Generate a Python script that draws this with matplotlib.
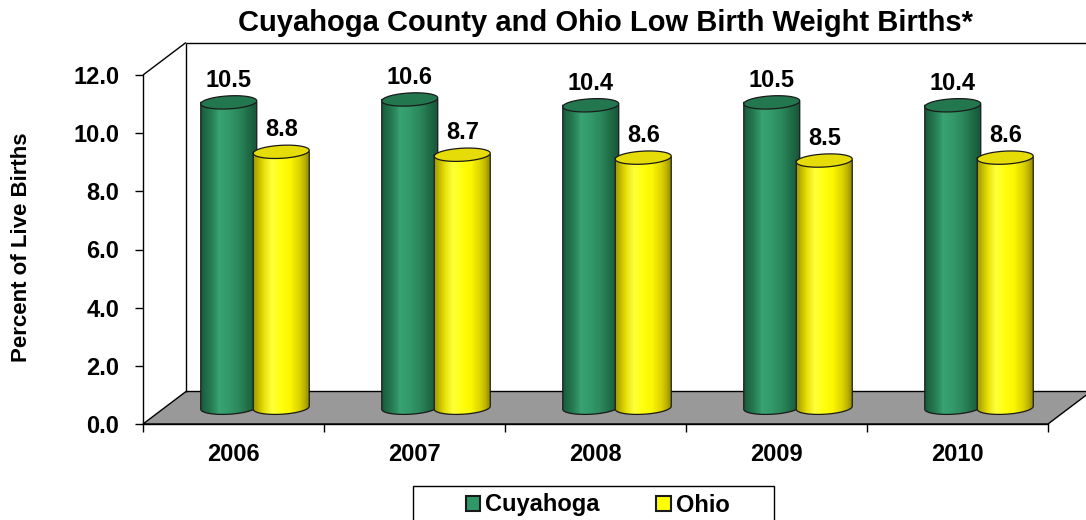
import numpy as np
import matplotlib
matplotlib.use("Agg")
import matplotlib.pyplot as plt
from matplotlib.patches import Polygon, PathPatch, Rectangle, Patch
from matplotlib.path import Path
from matplotlib.collections import PolyCollection
from matplotlib.colors import LinearSegmentedColormap

plt.rcParams['font.family'] = ['Liberation Sans', 'DejaVu Sans']
plt.rcParams['font.weight'] = 'bold'

# ---- data ----
years = ['2006', '2007', '2008', '2009', '2010']
series_names = ['Cuyahoga', 'Ohio']
cuyahoga = [10.5, 10.6, 10.4, 10.5, 10.4]
ohio = [8.8, 8.7, 8.6, 8.5, 8.6]
y_ticks = [0, 2, 4, 6, 8, 10, 12]

title = 'Cuyahoga County and Ohio Low Birth Weight Births*'
y_label = 'Percent of Live Births'

# ---- styling ----
W, H = 1086, 520
DPI = 100
FS = 17

green_stops = ['#1a5a3c', '#23774f', '#38a373', '#33996b', '#2b8a5e', '#217049', '#18553a']
yellow_stops = ['#9c9400', '#e0d800', '#ffff3a', '#ffff10', '#fbf600', '#dcd200', '#9a9200']
top_colors = ['#22774f', '#e6dc08']
bar_cmaps = [LinearSegmentedColormap.from_list('g', green_stops),
             LinearSegmentedColormap.from_list('y', yellow_stops)]
legend_colors = ['#2e9966', '#ffff00']

fig = plt.figure(figsize=(W / DPI, H / DPI), dpi=DPI)
fig.patch.set_facecolor('white')

# front plane of the box: value 0..12 across five categories
ax_left, ax_right, ax_bottom, ax_top = 143, 1048, 424, 75
ax = fig.add_axes([ax_left / W, 1 - ax_bottom / H,
                   (ax_right - ax_left) / W, (ax_bottom - ax_top) / H])
ax.set_xlim(-0.5, len(years) - 0.5)
ax.set_ylim(0, 12)
ax.patch.set_visible(False)
for side in ['top', 'right']:
    ax.spines[side].set_visible(False)
for side in ['left', 'bottom']:
    ax.spines[side].set_linewidth(1.0)
    ax.spines[side].set_zorder(5)

# depth of the box, in data units
px_x = (ax_right - ax_left) / len(years)
px_y = (ax_bottom - ax_top) / 12.0
DX = 43 / px_x
DY = 32.5 / px_y

x0, x1 = -0.5, len(years) - 0.5

# floor
floor = Polygon([(x0, 0), (x1, 0), (x1 + DX, DY), (x0 + DX, DY)], closed=True,
                facecolor='#999999', edgecolor='black', lw=1.0, clip_on=False, zorder=1)
ax.add_patch(floor)

# back wall outline
wall_kw = dict(color='black', lw=1.0, clip_on=False, zorder=1, solid_capstyle='butt')
ax.plot([x0 + DX, x0 + DX], [DY, 12 + DY], **wall_kw)
ax.plot([x0 + DX, x1 + DX], [12 + DY, 12 + DY], **wall_kw)
ax.plot([x0, x0 + DX], [12, 12 + DY], **wall_kw)

# axes ticks and labels
ax.set_yticks(y_ticks)
ax.set_yticklabels([f'{v:.1f}' for v in y_ticks])
ax.tick_params(axis='y', direction='out', length=6, width=1, pad=11, labelsize=FS)
ax.set_xticks(range(len(years)))
ax.set_xticklabels(years)
ax.set_xticks(np.arange(-0.5, len(years)), minor=True)
ax.tick_params(axis='x', which='major', length=0, pad=14, labelsize=FS)
ax.tick_params(axis='x', which='minor', direction='out', length=6, width=1)
for lbl in ax.get_xticklabels() + ax.get_yticklabels():
    lbl.set_fontweight('bold')

# cylinder geometry
BAR_W = 56 / px_x
ELL_B = 6.5 / px_y
SHEAR = 1.5 / px_y
offsets = [-0.145, 0.145]
n_strips = 60
t_top = np.linspace(0, 2 * np.pi, 90)
t_bot = np.linspace(np.pi, 2 * np.pi, 45)


def cylinder(cx, base, top, cmap, top_color, z):
    a = BAR_W / 2
    xl, xr = cx - a, cx + a
    # body outline: left side, lower half of base ellipse, right side
    bx = cx + a * np.cos(t_bot)
    by = base + ELL_B * np.sin(t_bot) + SHEAR * np.cos(t_bot)
    verts = [(xl, top)] + list(zip(bx, by)) + [(xr, top), (xl, top)]
    body = PathPatch(Path(verts, closed=True), facecolor='none', edgecolor='none',
                     clip_on=False, zorder=z)
    ax.add_patch(body)
    edges = np.linspace(xl, xr, n_strips + 1)
    strips = [[(edges[k], base - ELL_B - SHEAR), (edges[k + 1], base - ELL_B - SHEAR),
               (edges[k + 1], top), (edges[k], top)] for k in range(n_strips)]
    shades = cmap((np.arange(n_strips) + 0.5) / n_strips)
    pc = PolyCollection(strips, facecolors=shades, edgecolors=shades, linewidths=0.3,
                        zorder=z)
    pc.set_clip_path(body)
    ax.add_collection(pc)
    outline = [(xl, top)] + list(zip(bx, by)) + [(xr, top)]
    ox, oy = zip(*outline)
    ax.plot(ox, oy, color='#1a1a1a', lw=0.9, zorder=z + 0.1, clip_on=False)
    ex = cx + a * np.cos(t_top)
    ey = top + ELL_B * np.sin(t_top) + SHEAR * np.cos(t_top)
    cap = Polygon(list(zip(ex, ey)), closed=True, facecolor=top_color,
                  edgecolor='#1a1a1a', lw=0.9, clip_on=False, zorder=z + 0.2)
    ax.add_patch(cap)


for i, year in enumerate(years):
    for s, values in enumerate([cuyahoga, ohio]):
        v = values[i]
        cx = i + offsets[s] + 0.5 * DX
        base = 0.5 * DY
        top = v + 0.5 * DY
        cylinder(cx, base, top, bar_cmaps[s], top_colors[s], 3 + i + 0.4 * s)
        ax.annotate(f'{v:.1f}', (cx, top), xytext=(0, 16), textcoords='offset points',
                    ha='center', va='center', fontsize=FS, fontweight='bold',
                    annotation_clip=False, zorder=20)

# title and axis label
fig.text(606 / W, 1 - 23 / H, title, ha='center', va='center',
         fontsize=21, fontweight='bold')
fig.text(22 / W, 1 - 247 / H, y_label, rotation=90, ha='center', va='center',
         fontsize=16, fontweight='bold')

# legend with its frame running off the bottom edge
fig.add_artist(Rectangle((413 / W, -0.05), (774 - 413) / W, (1 - 486 / H) + 0.05,
                         transform=fig.transFigure, facecolor='white',
                         edgecolor='black', lw=1.0))
handles = [Patch(facecolor=legend_colors[k], edgecolor='#1a1a1a', lw=1.5)
           for k in range(len(series_names))]
fig.legend(handles, series_names, loc='center', bbox_to_anchor=(597.5 / W, 1 - 505 / H),
           ncol=2, frameon=False, prop={'weight': 'bold', 'size': FS},
           handlelength=0.62, handleheight=0.62, handletextpad=0.2, columnspacing=2.4)

fig.savefig('out.png', dpi=DPI)
